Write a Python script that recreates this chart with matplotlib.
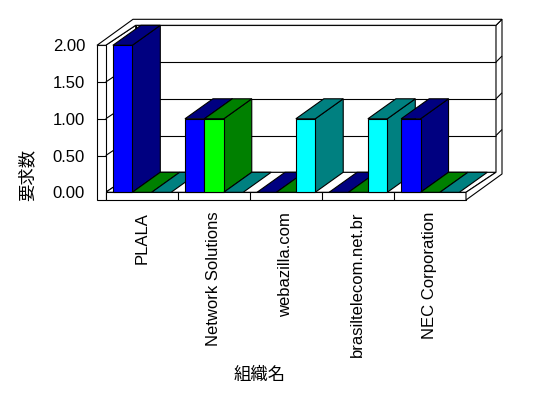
import matplotlib
matplotlib.use("Agg")
import matplotlib.pyplot as plt
from matplotlib.patches import Polygon

# fonts: latin first, CJK fallback for the axis titles
plt.rcParams['font.family'] = ['Liberation Sans', 'Noto Sans CJK JP']

# ---- data ----
organizations = ['PLALA', 'Network Solutions', 'webazilla.com',
                 'brasiltelecom.net.br', 'NEC Corporation']
series_1 = [2, 1, 0, 0, 1]
series_2 = [0, 1, 0, 0, 0]
series_3 = [0, 0, 1, 1, 0]
y_ticks = [0.0, 0.5, 1.0, 1.5, 2.0]
y_label = '要求数'
x_label = '組織名'

front_colors = ['#0000FF', '#00FF00', '#00FFFF']
dark_colors = ['#000080', '#008000', '#008080']

# ---- canvas: the axes is the front plane of the 3D box ----
W, H = 548, 398
fig = plt.figure(figsize=(W / 100, H / 100), dpi=100)
left_px, right_px, top_px, base_px = 105.7, 466.0, 45.3, 192.3
ax = fig.add_axes([left_px / W, 1 - base_px / H,
                   (right_px - left_px) / W, (base_px - top_px) / H])
n_cat = len(organizations)
ymax = y_ticks[-1]
ax.set_xlim(0, n_cat)
ax.set_ylim(0, ymax)
for s in ax.spines.values():
    s.set_visible(False)

PX_X = (right_px - left_px) / n_cat
PX_Y = (base_px - top_px) / ymax

# depth offsets in screen pixels (dx right, dy down)
WALL = (30, -20)
OUTER = (36, -26)
BAR_D = (28, -20)
WALL_T = 8.7
FLOOR_T = 7.7
GAP = 7.2 / PX_X
BW = 19.4 / PX_X

LW = 0.8


def P(x, y, dx=0, dy=0):
    return (x + dx / PX_X, y - dy / PX_Y)


def poly(pts, fc, z=1):
    ax.add_patch(Polygon(pts, closed=True, fc=fc, ec='black', lw=LW,
                         clip_on=False, zorder=z, joinstyle='miter'))


def line(p1, p2, z=1.5):
    ax.plot([p1[0], p2[0]], [p1[1], p2[1]], color='black', lw=LW,
            clip_on=False, zorder=z, solid_capstyle='butt')


# ---- walls and floor ----
# back wall inner face
poly([P(0, 0, *WALL), P(n_cat, 0, *WALL), P(n_cat, ymax, *WALL), P(0, ymax, *WALL)], 'white')
# left wall inner face
poly([P(0, 0), P(0, ymax), P(0, ymax, *WALL), P(0, 0, *WALL)], 'white')
# floor top
poly([P(0, 0), P(n_cat, 0), P(n_cat, 0, *WALL), P(0, 0, *WALL)], 'white')
# left wall front face
poly([P(0, -FLOOR_T / PX_Y, -WALL_T), P(0, -FLOOR_T / PX_Y), P(0, ymax), P(0, ymax, -WALL_T)], 'white')
# floor front face
poly([P(0, 0), P(n_cat, 0), P(n_cat, -FLOOR_T / PX_Y), P(0, -FLOOR_T / PX_Y)], 'white')
# right side of floor + back wall
poly([P(n_cat, 0), P(n_cat, -FLOOR_T / PX_Y), P(n_cat, -FLOOR_T / PX_Y, *OUTER),
      P(n_cat, ymax, *OUTER), P(n_cat, ymax, *WALL), P(n_cat, 0, *WALL)], 'white')
# top cap
poly([P(0, ymax, -WALL_T), P(0, ymax), P(0, ymax, *WALL), P(n_cat, ymax, *WALL),
      P(n_cat, ymax, *OUTER), P(0, ymax, -WALL_T + OUTER[0], OUTER[1])], 'white')

# gridlines
for v in y_ticks[1:-1]:
    line(P(0, v, *WALL), P(n_cat, v, *WALL))
    line(P(0, v), P(0, v, *WALL))
    line(P(0, v, -WALL_T), P(0, v))
    line(P(n_cat, v, *WALL), P(n_cat, v, *OUTER))

# category dividers on the floor front
for i in range(1, n_cat):
    line(P(i, 0), P(i, -FLOOR_T / PX_Y))

# ---- bars (left to right painter order) ----
z = 3
for i in range(n_cat):
    for j, vals in enumerate([series_1, series_2, series_3]):
        h = vals[i]
        x0 = i + GAP + j * BW
        x1 = x0 + BW
        if h > 0:
            poly([P(x1, 0), P(x1, h), P(x1, h, *BAR_D), P(x1, 0, *BAR_D)], dark_colors[j], z)
        poly([P(x0, h), P(x1, h), P(x1, h, *BAR_D), P(x0, h, *BAR_D)], dark_colors[j], z)
        if h > 0:
            poly([P(x0, 0), P(x1, 0), P(x1, h), P(x0, h)], front_colors[j], z)
        z += 0.01

# ---- ticks and labels ----
ax.set_yticks(y_ticks)
ax.set_yticklabels([f'{v:.2f}' for v in y_ticks])
ax.tick_params(axis='y', length=0, pad=14.9, labelsize=12)
ax.set_xticks([i + 0.5 for i in range(n_cat)])
ax.set_xticklabels(organizations, rotation=90)
ax.tick_params(axis='x', length=0, pad=14.0, labelsize=12)

fig.text(27.5 / W, 1 - 175 / H, y_label, rotation=90, ha='center', va='center', fontsize=12.5)
fig.text(260 / W, 1 - 375 / H, x_label, ha='center', va='center', fontsize=12.5)

fig.savefig('out.png', dpi=100)
